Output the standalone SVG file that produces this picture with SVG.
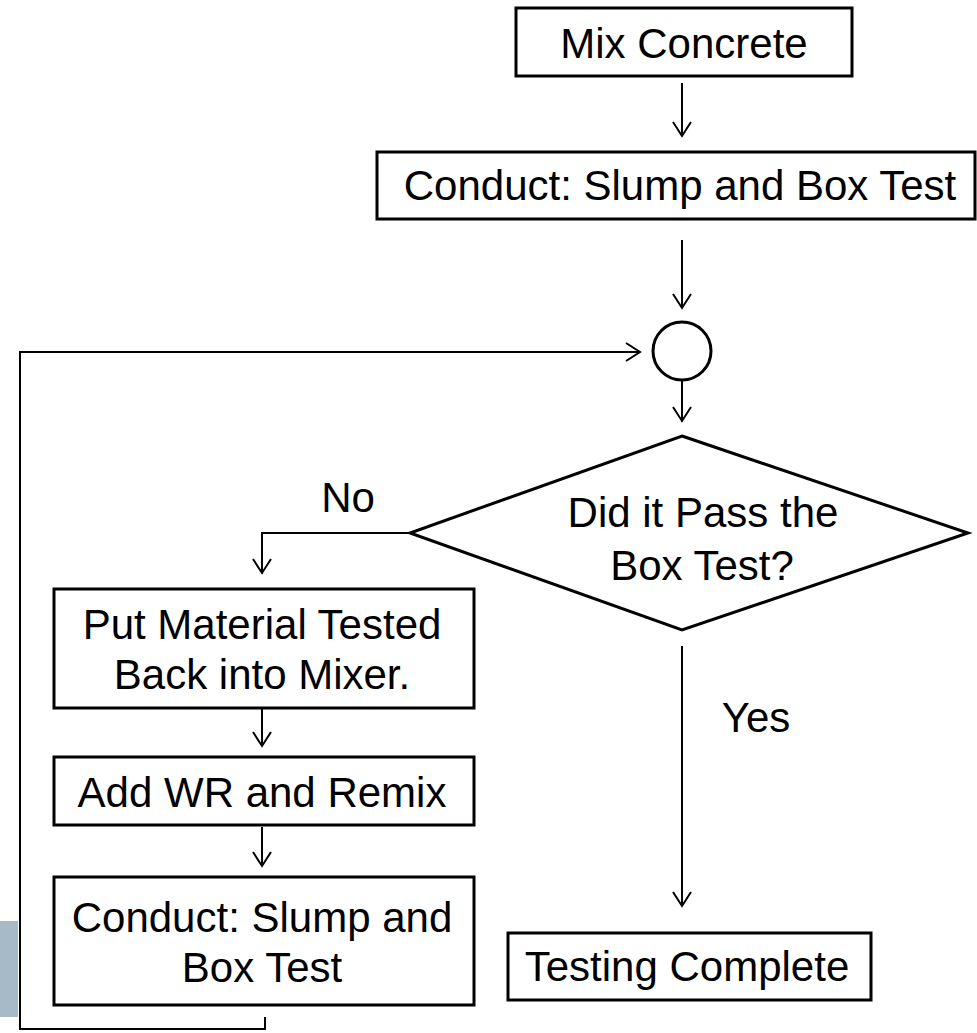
<svg xmlns="http://www.w3.org/2000/svg" width="977" height="1033" viewBox="0 0 977 1033">
<style>
.box{fill:#fff;stroke:#000;stroke-width:3}
.t{font-family:"Liberation Sans",Arial,sans-serif;font-size:42px;fill:#000;text-anchor:middle}
.c{fill:none;stroke:#000;stroke-width:2}
.a{marker-end:url(#arr)}
</style>
<defs>
<marker id="arr" markerUnits="userSpaceOnUse" markerWidth="20" markerHeight="22" refX="15" refY="10" orient="auto">
<path d="M1,1 L15,10 L1,19" fill="none" stroke="#000" stroke-width="2"/>
</marker>
</defs>
<rect x="0" y="921" width="18" height="96" fill="#a7bac8"/>
<g id="connectors">
<line class="c a" x1="682" y1="83" x2="682" y2="136"/>
<line class="c a" x1="682" y1="240" x2="682" y2="308"/>
<line class="c a" x1="682" y1="381" x2="682" y2="421"/>
<polyline class="c a" points="410,533 262,533 262,573"/>
<line class="c a" x1="262" y1="709" x2="262" y2="746"/>
<line class="c a" x1="262" y1="827" x2="262" y2="866"/>
<polyline class="c a" points="265,1017 265,1029 20,1029 20,352 640,352"/>
<line class="c a" x1="682" y1="646" x2="682" y2="906"/>
</g>
<g id="mix">
<rect class="box" x="516" y="8" width="336" height="68"/>
<text class="t" x="684" y="58">Mix Concrete</text>
</g>
<g id="conduct1">
<rect class="box" x="377" y="152" width="598" height="67"/>
<text class="t" x="680" y="200">Conduct: Slump and Box Test</text>
</g>
<g id="junction">
<circle cx="682" cy="351" r="29" fill="#fff" stroke="#000" stroke-width="3"/>
</g>
<g id="decision">
<polygon class="box" points="682,436 968,533 682,630 410,533"/>
<text class="t" x="703" y="527">Did it Pass the</text>
<text class="t" x="702" y="580">Box Test?</text>
</g>
<g id="labels">
<text class="t" x="348" y="512">No</text>
<text class="t" x="756" y="732">Yes</text>
</g>
<g id="putback">
<rect class="box" x="54" y="589" width="420" height="119"/>
<text class="t" x="262" y="639">Put Material Tested</text>
<text class="t" x="262" y="689">Back into Mixer.</text>
</g>
<g id="addwr">
<rect class="box" x="54" y="757" width="420" height="68"/>
<text class="t" x="262" y="807">Add WR and Remix</text>
</g>
<g id="conduct2">
<rect class="box" x="54" y="877" width="420" height="128"/>
<text class="t" x="262" y="932">Conduct: Slump and</text>
<text class="t" x="262" y="982">Box Test</text>
</g>
<g id="complete">
<rect class="box" x="508" y="933" width="363" height="67"/>
<text class="t" x="687" y="981">Testing Complete</text>
</g>
</svg>
